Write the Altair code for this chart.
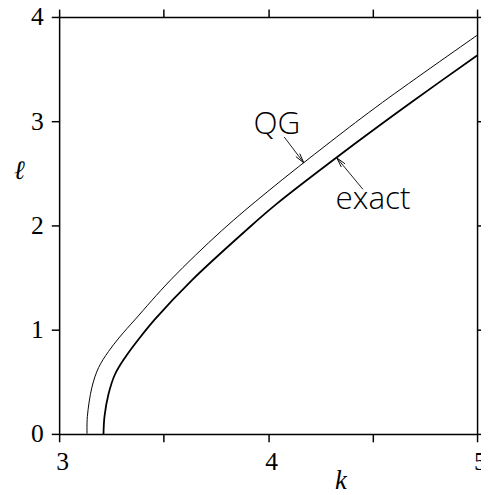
import altair as alt
import pandas as pd

# --- data ---
qg_k = [3.1335, 3.135, 3.157, 3.189, 3.236, 3.290, 3.365, 3.534, 3.778, 3.999, 4.297, 4.547, 5.000]
qg_l = [0.000, 0.165, 0.448, 0.637, 0.790, 0.930, 1.101, 1.478, 1.950, 2.327, 2.800, 3.180, 3.824]
ex_k = [3.2123, 3.217, 3.236, 3.267, 3.315, 3.385, 3.459, 3.637, 3.893, 4.038, 4.426, 4.684, 5.000]
ex_l = [0.000, 0.165, 0.380, 0.570, 0.731, 0.920, 1.101, 1.478, 1.950, 2.202, 2.800, 3.180, 3.630]

label_text = ["QG", "exact"]
label_k = [4.042, 4.502]
label_l = [2.880, 2.158]

arrow_k0 = [4.077, 4.454]
arrow_l0 = [2.849, 2.346]
arrow_k1 = [4.171, 4.329]
arrow_l1 = [2.600, 2.648]
arrow_angle = [142.4, 320.0]

x_ticks = [3, 3.5, 4, 4.5, 5]
y_ticks = [0, 1, 2, 3, 4]

qg = pd.DataFrame({"k": qg_k, "l": qg_l})
ex = pd.DataFrame({"k": ex_k, "l": ex_l})
labels = pd.DataFrame({"k": label_k, "l": label_l, "t": label_text})
arrows = pd.DataFrame({"k0": arrow_k0, "l0": arrow_l0, "k1": arrow_k1, "l1": arrow_l1, "a": arrow_angle})

SERIF = "Liberation Serif"

xs = alt.Scale(domain=[3, 5], nice=False, zero=False)
ys = alt.Scale(domain=[0, 4], nice=False, zero=False)

common = dict(domainColor="black", domainWidth=1.5, tickColor="black", tickWidth=1.5,
              tickSize=8, grid=False, labelColor="black", labelFont=SERIF,
              labelFontSize=26, labelFlush=False, labelOverlap=False)

bottom_axis = alt.Axis(orient="bottom", values=x_ticks,
                       labelExpr="datum.value % 1 === 0 ? format(datum.value, 'd') : ''",
                       labelPadding=7, labelOffset=3, title="k", titleFont=SERIF,
                       titleFontStyle="italic", titleFontWeight="normal", titleFontSize=27,
                       titleColor="black", titleAngle=0, titleX=286, titleY=48,
                       titleAlign="center", titleBaseline="middle", **common)
left_axis = alt.Axis(orient="left", values=y_ticks, format="d", labelPadding=8, title="ℓ",
                     titleFont=SERIF, titleFontStyle="italic",
                     titleFontWeight="normal", titleFontSize=27, titleColor="black",
                     titleAngle=0, titleX=-41, titleY=156, titleAlign="center",
                     titleBaseline="middle", **common)
top_axis = alt.Axis(orient="top", values=x_ticks, labels=False, title=None, **common)
right_axis = alt.Axis(orient="right", values=y_ticks, labels=False, title=None, **common)

line_qg = alt.Chart(qg).mark_line(color="black", strokeWidth=1.0, interpolate="catmull-rom").encode(
    x=alt.X("k:Q", scale=xs, axis=bottom_axis),
    y=alt.Y("l:Q", scale=ys, axis=left_axis),
)
line_ex = alt.Chart(ex).mark_line(color="black", strokeWidth=1.8, interpolate="catmull-rom").encode(
    x=alt.X("k:Q", scale=xs, axis=None),
    y=alt.Y("l:Q", scale=ys, axis=None),
)
arrow_lines = alt.Chart(arrows).mark_rule(color="black", strokeWidth=0.9).encode(
    x=alt.X("k0:Q", scale=xs, axis=top_axis),
    y=alt.Y("l0:Q", scale=ys, axis=right_axis),
    x2="k1:Q",
    y2="l1:Q",
)
arrow_heads = alt.Chart(arrows).mark_point(
    shape="M-0.5,2L0,0L0.5,2", filled=False, color="black", strokeWidth=0.9, size=100, opacity=1
).encode(
    x=alt.X("k1:Q", scale=xs, axis=None),
    y=alt.Y("l1:Q", scale=ys, axis=None),
    angle=alt.Angle("a:Q", scale=None),
)
texts = alt.Chart(labels).mark_text(
    font="Open Sans", fontWeight=300, fontSize=32, color="black", align="center", baseline="alphabetic"
).encode(
    x=alt.X("k:Q", scale=xs, axis=None),
    y=alt.Y("l:Q", scale=ys, axis=None),
    text="t:N",
)

chart = alt.layer(line_qg, line_ex, arrow_lines, arrow_heads, texts).resolve_axis(
    x="independent", y="independent"
).properties(
    width=425, height=424,
    autosize=alt.AutoSizeParams(type="none"),
    padding={"left": 52, "top": 5, "right": 4, "bottom": 58},
).configure_view(stroke=None).configure(background="white")

chart.save("out.html", embed_options={"renderer": "svg", "actions": False})
